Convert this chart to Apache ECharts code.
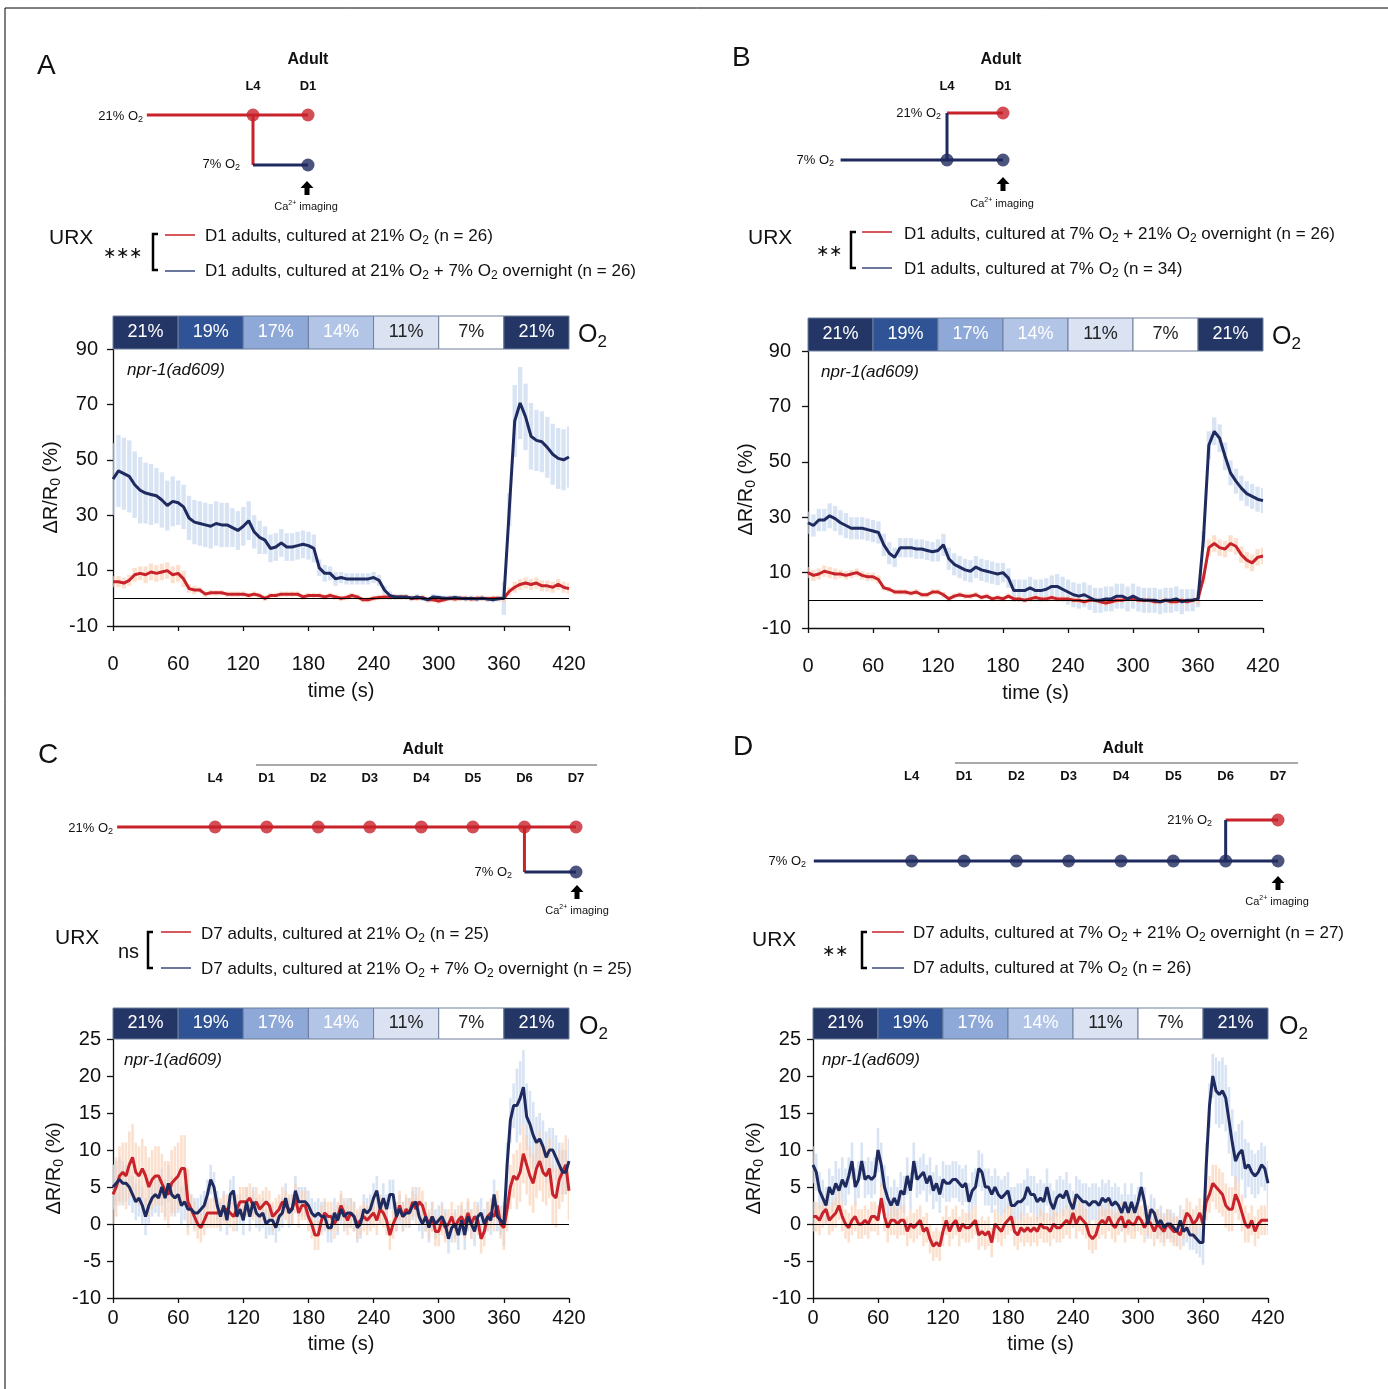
<!DOCTYPE html>
<html>
<head>
<meta charset="utf-8">
<script src="https://cdn.jsdelivr.net/npm/echarts@6/dist/echarts.min.js"></script>
<style>
  html, body { margin: 0; padding: 0; background: #fff; }
  #chart { width: 1388px; height: 1389px; }
</style>
</head>
<body>
<div id="chart"></div>
<script>
// ---- data ----
const STEP_AB = 5;   // s between samples, panels A and B
const STEP_CD = 3;   // s between samples, panels C and D
const SEM_CHUNK = 10; // s covered by each error value

const timeTicks = [0, 60, 120, 180, 240, 300, 360, 420];
const yTicksAB = [-10, 10, 30, 50, 70, 90];
const yTicksCD = [-10, -5, 0, 5, 10, 15, 20, 25];

const o2Edges = [0, 60, 120, 180, 240, 300, 360, 420];
const o2Labels = ['21%', '19%', '17%', '14%', '11%', '7%', '21%'];

// A: D1, 21% (red) vs 21% + 7% overnight (blue)
const blueA = [
  43, 46, 45, 44, 41, 39, 38, 37.5, 37, 35.5,
  33.5, 35, 34.5, 33, 29, 27.5, 27, 26.5, 26, 27,
  26.5, 26.5, 25.5, 24.5, 26, 28, 24, 22, 21, 18,
  18.5, 20, 18.5, 18.5, 19, 19.5, 19, 18, 11, 9,
  9, 7, 7.5, 7, 7, 7, 7, 7, 7.5, 6.5,
  3, 1, 0.5, 0.5, 0.5, 0, 0.5, 0, -0.5, 0.5,
  0.3, 0, 0, 0.3, 0, -0.2, 0, -0.3, 0, -0.3,
  -0.5, -0.2, 0, 32, 64, 70.5, 65.5, 58.5, 57, 56.5,
  54.5, 52, 50.5, 50, 51
];
const redA = [
  6, 6, 5.5, 6.5, 8.5, 9, 8.5, 9.5, 9, 9.5,
  10, 8.5, 9, 7, 3.5, 3, 3, 1.5, 2, 2,
  2, 1.5, 1.5, 1.5, 1.5, 1, 1.5, 1, 0, 1,
  1, 1.5, 1.5, 1.5, 1.5, 0.5, 1, 1, 1, 0.5,
  1, 0.5, 0, 0.3, 1, 0.5, -0.5, -0.5, 0, 0.3,
  0.5, 0.5, 0.5, 0.5, 0.5, 0, 0, 0.3, -0.5, -0.5,
  -1, -0.5, 0, -0.3, 0, 0, -0.3, 0, 0, -0.2,
  0, 0, 0, 2.5, 4, 5, 5.5, 5, 5.5, 4.5,
  4.5, 4, 5, 4, 3.5
];
const semBlueA = [13, 13, 12, 11, 10, 9, 8, 8, 8, 8, 8, 7, 7, 6, 5, 5, 5, 5, 5, 3, 2.5, 2, 2, 2, 2, 1.5, 1, 1, 1, 1, 1, 1, 1, 1, 1, 1, 6, 13, 12, 11, 11, 11];
const semRedA = [2, 2, 2.5, 3, 3, 3, 3, 1.5, 1, 1, 1, 1, 1, 1, 1, 1, 1, 1, 1, 1, 1, 1, 1, 1, 1, 1, 1, 1, 1, 1, 1, 1, 1, 1, 1, 1, 1.5, 2, 2, 2, 2, 2];

// B: D1, 7% + 21% overnight (red) vs 7% (blue)
const blueB = [
  28, 27, 29, 29, 30.5, 29.5, 28, 27, 26, 26,
  26, 25.5, 25, 24.5, 20, 17, 15.5, 19, 19, 19,
  18.5, 18.5, 18, 17.5, 18, 20, 15, 13, 12, 11,
  10.5, 12, 11, 10.5, 10, 9.5, 10, 8, 3.5, 3.5,
  3.5, 4.5, 3.5, 3.5, 4, 5, 5, 4, 3, 2,
  1.5, 2, 1, 0, 0, 0.5, 0.5, 1.5, 1.5, 0.5,
  1.5, 0.5, 0, 0, 0, -0.5, 0, 0, 0.5, -0.5,
  0, 0, 0.5, 22, 56, 61, 58.5, 52, 46, 43,
  40.5, 38.5, 37.5, 36.5, 36
];
const redB = [
  10, 9, 9.5, 10.5, 10, 9.5, 9.5, 9, 9.5, 10,
  9, 8.5, 8.5, 7.5, 4.5, 4, 3, 3, 3, 2.5,
  3, 2, 2, 3, 3, 2, 0.5, 1.5, 2, 1.5,
  1.5, 2, 1, 1.5, 0.5, 1, 0.5, 1.5, 0.5, 0.5,
  0, 0.5, 1, 0.5, 0.5, 1, 0.5, 0.5, 0.5, 0,
  0, -0.5, 0, 0, -0.5, -1, -0.5, 0, 0, 0.5,
  0.5, 0, 0, 0, -0.5, -0.5, 0, -0.5, -0.5, 0,
  -0.5, 0, 0.5, 8, 19, 20.5, 19, 18.5, 20.5, 19.5,
  16.5, 14.5, 13.5, 15.5, 16
];
const semBlueB = [4, 4, 4.5, 4.5, 4, 4, 4, 4, 3.5, 3.5, 3.5, 3.5, 4, 4, 4, 4, 4, 4, 3.5, 4, 4, 4, 4, 4.5, 4.5, 4.5, 4.5, 4.5, 4.5, 4.5, 4.5, 4.5, 4.5, 4.5, 4.5, 4, 3, 5, 5, 4.5, 4.5, 4.5];
const semRedB = [2, 2, 2, 1.5, 1.5, 1.5, 1.5, 1, 1, 1, 1, 1, 1, 1, 1, 1, 1, 1, 1, 1, 1, 1, 1, 1, 1, 1, 1, 1, 1, 1, 1, 1, 1, 1, 1, 1, 2, 3, 3, 3, 3, 3];

// C: D7, 21% (red) vs 21% + 7% overnight (blue)
const blueC = [
  5, 5.5, 6, 5.5, 5.5, 5, 4, 3, 3.5, 2.5,
  1, 2.5, 3.5, 4, 3.5, 5, 3.5, 5.5, 4, 3.5,
  4, 2.5, 3, 2, 2, 1.5, 1.5, 2, 2.5, 4,
  6, 5, 2.5, 1, 2.5, 0.5, 4, 4.5, 1, 2,
  0.5, 3, 1, 3, 1.5, 1, 1.5, 0, 0.5, 0.5,
  -0.5, 1, 1.5, 3.5, 1.5, 2, 4.5, 3, 3, 3,
  2.5, 1.5, 1, 1.5, 1, 1, -0.5, -0.5, 1.5, 0.5,
  2, 1, 1.5, 1.5, 1, -0.5, 0, 2, 1.5, 2,
  3.5, 4.5, 2, 3.5, 2, 4, 4, 1, 2, 1,
  1.5, 1.5, 2.5, 3, 1, 0, 1, -0.5, 1, 0,
  0.5, 1, 0, -2, -0.5, 0, -1.5, 0.5, -1.5, 1,
  0, -1, 1, 1.5, 0, 1, 0.5, 4, 1, 0.5,
  0, 8, 14, 16, 16, 17, 18.5, 14.5, 13.5, 12,
  11, 11.5, 10.5, 9, 10, 10, 9, 8, 7, 7,
  8.5
];
const redC = [
  4, 5, 6.5, 7, 6.5, 8, 9, 7, 6.5, 7.5,
  6.5, 5, 6, 6.5, 6.5, 5.5, 4.5, 4, 5.5, 6,
  6.5, 7.5, 7.5, 3, 2, 1, 0, -0.5, 0.5, 1.5,
  1.5, 1.5, 1.5, 1.5, 2, 2, 1.5, 1, 2, 3,
  3, 3, 3.5, 2.5, 3, 2, 2.5, 3, 2.5, 1,
  1.5, 2, 3, 2.5, 2, 2, 3.5, 1.5, 2.5, 2.5,
  1, 0, -1.5, -1.5, 0.5, 1.5, 1, 1, 0, 1,
  2.5, 1.5, 0.5, 1.5, 1, 0, 0.5, 1, 0.5, 1,
  1.5, 0.5, 2, 1.5, 0.5, -1.5, 0, 1, 2.5, 1,
  2, 1.5, 3, 2, 3, 2.5, 1, 0, 1, -1,
  -1, 0.5, -0.5, 0, 1, -0.5, 0.5, 1, 0, 1.5,
  0, 1, 0.5, -2, -1, 1, 1.5, 1, 2.5, 0,
  -0.5, 2, 5, 6.5, 6, 7, 9.5, 8, 6.5, 5.5,
  7.5, 8.5, 7, 6.5, 7.5, 4, 3.5, 6, 7, 8,
  4.5
];
const semBlueC = [3, 2.5, 2.5, 2.5, 2.5, 2.5, 2.5, 2, 2, 2, 2, 2, 2, 2, 2, 2, 2, 2, 2, 2, 2, 2, 2, 2, 2, 2, 2, 2, 2, 2, 2, 2, 2, 2, 2, 2, 3, 5, 4.5, 3.5, 3, 3];
const semRedC = [4, 4.5, 4, 4, 4, 4.5, 4.5, 2, 2, 2, 2, 2, 2, 2, 2, 2, 2, 2, 2, 2, 2, 2, 2, 2, 2, 2, 2, 2, 2, 2, 2, 2, 2, 2, 2, 2, 3, 4, 4, 4, 4, 4];

// D: D7, 7% + 21% overnight (red) vs 7% (blue)
const blueD = [
  8, 7, 4.5, 3.5, 2.5, 5, 4, 5.5, 4.5, 6,
  5, 6.5, 8.5, 5, 6, 8.5, 6, 6.5, 6, 6.5,
  10, 8, 5, 3.5, 2.5, 3.5, 2.5, 4.5, 4, 6.5,
  4.5, 8.5, 6, 6.5, 7, 5.5, 6.5, 4.5, 5.5, 4,
  6, 5.5, 5.5, 6, 6, 5.5, 5, 5.5, 3, 4.5,
  5, 7.5, 7, 5, 5, 4, 5, 4, 3.5, 4,
  4.5, 2.5, 2.5, 3, 3, 3.5, 5, 4, 4, 3,
  3.5, 3, 5, 3, 2, 3.5, 4, 3.5, 4.5, 3,
  2, 4, 3.5, 3, 3, 2.5, 3, 3, 2.5, 3.5,
  3, 3.5, 2.5, 3, 2.5, 1.5, 3, 1.5, 3, 1.5,
  3, 5, 3, 0, 2, 1.5, 0, 0.5, -0.5, 0,
  0, -0.5, -1, 0.5, -1, -0.5, -1.5, -1.5, -2, -2.5,
  -2.5, 8, 16, 20, 18, 17.5, 18, 17, 14, 11,
  8.5, 9.5, 10, 7.5, 8, 7, 6.5, 7, 8, 7.5,
  5.5
];
const redD = [
  1, 1, 0.5, 1.5, 2, 0.5, 1, 1.5, 2.5, 1,
  0, -0.5, 0.5, 1, 0, 0, 0.5, 0, 1, 1,
  0.5, 3.5, 1, -0.5, 0.5, 0.5, 0, 0.5, 0.5, -1,
  0, -0.5, 0, 0.5, -1, -0.5, -2, -3, -2.5, -3,
  -1, 0.5, -1, 0, 0.5, -1, 0, -0.5, -0.5, 0,
  0.5, -1.5, -1, -1.5, -1, -2.5, 0, -0.5, -1, 0,
  0.5, 1, -1, -1.5, -0.5, -1, -0.5, -1, -0.5, -1,
  0, -0.5, -0.5, -1, 0, -0.5, -0.5, 0, 0.5, 0,
  1.5, 0, 1, 0.5, 0, -1.5, -2, -1.5, 0, 0.5,
  0, 1, 0, -0.5, 0.5, 1, -0.5, 0.5, 0, 0,
  1, 0.5, -0.5, 0.5, 0, -1, 0, -0.5, -1, 0,
  -0.5, -1, -1, -1.5, 0, 1.5, 1, 0, 0.5, 1.5,
  0, 3, 4, 5.5, 5, 4.5, 4, 2.5, 2, 2,
  4, 3, 1.5, 0, -0.5, 0.5, -1, 0, 0.5, 0.5,
  0.5
];
const semBlueD = [2.5, 2.5, 3, 2.5, 2.5, 2.5, 3, 2.5, 2.5, 2.5, 2.5, 2.5, 2.5, 2.5, 2.5, 2.5, 2.5, 2.5, 2.5, 2.5, 2.5, 2.5, 2.5, 2.5, 2.5, 2.5, 2.5, 2.5, 2.5, 2.5, 2, 2, 2, 2, 2, 2, 3, 4.5, 4.5, 4, 3, 3];
const semRedD = [2, 2, 2, 2, 2, 2, 2, 2, 2, 2, 2, 2, 2, 2, 2, 2, 2, 2, 2, 2, 2, 2, 2, 2, 2, 2, 2, 2, 2, 2, 2, 2, 2, 2, 2, 2, 2.5, 3, 3, 2.5, 2, 2];

// schematic timelines: x = stage index (L4 = 0), y = O2 level
const stagesAB = ['L4', 'D1'];
const stagesCD = ['L4', 'D1', 'D2', 'D3', 'D4', 'D5', 'D6', 'D7'];
const schA_red = [[[-1.93, 21], [0, 21], [1, 21]], [[0, 21], [0, 7]]];
const schA_blue = [[[0, 7], [1, 7]]];
const schA_redDots = [[0, 21], [1, 21]];
const schA_blueDots = [[1, 7]];
const schB_red = [[[0, 21], [1, 21]]];
const schB_blue = [[[-1.9, 7], [0, 7], [1, 7]], [[0, 7], [0, 21]]];
const schB_redDots = [[1, 21]];
const schB_blueDots = [[0, 7], [1, 7]];
const schC_red = [[[-1.9, 21], [7, 21]], [[6, 21], [6, 7]]];
const schC_blue = [[[6, 7], [7, 7]]];
const schC_redDots = [[0, 21], [1, 21], [2, 21], [3, 21], [4, 21], [5, 21], [6, 21], [7, 21]];
const schC_blueDots = [[7, 7]];
const schD_red = [[[6, 21], [7, 21]]];
const schD_blue = [[[-1.87, 7], [7, 7]], [[6, 7], [6, 21]]];
const schD_redDots = [[7, 21]];
const schD_blueDots = [[0, 7], [1, 7], [2, 7], [3, 7], [4, 7], [5, 7], [6, 7], [7, 7]];

// ---- styles / layout ----
const FONT = '"Liberation Sans", Arial, sans-serif';
const RED = '#c8222b';
const BLUE = '#1f2a5e';
const RED_BAND = 'rgba(250, 208, 180, 0.65)';
const BLUE_BAND = 'rgba(200, 215, 238, 0.7)';
const o2Colors = ['#243666', '#2f5395', '#8ea8d8', '#b3c5e6', '#dbe3f3', '#ffffff', '#243666'];
const o2TextColors = ['#fff', '#fff', '#fff', '#fff', '#222', '#222', '#fff'];

const panels = [
  { main: [113, 349, 456, 277], bar: [113, 316, 456, 33], sch: [143, 115, 165, 50], schMargin: 22,
    yMin: -10, yMax: 90, yInt: 20, yTicks: yTicksAB, xLabelMargin: 28, xNameGap: 55, yLabelMargin: 15, yNameGap: 50,
    step: STEP_AB, red: redA, blue: blueA, semRed: semRedA, semBlue: semBlueA, stages: stagesAB,
    schRed: schA_red, schBlue: schA_blue, schRedDots: schA_redDots, schBlueDots: schA_blueDots },
  { main: [808, 351, 455, 277], bar: [808, 318, 455, 33], sch: [835, 113, 168, 47], schMargin: 20,
    yMin: -10, yMax: 90, yInt: 20, yTicks: yTicksAB, xLabelMargin: 28, xNameGap: 55, yLabelMargin: 17, yNameGap: 50,
    step: STEP_AB, red: redB, blue: blueB, semRed: semRedB, semBlue: semBlueB, stages: stagesAB,
    schRed: schB_red, schBlue: schB_blue, schRedDots: schB_redDots, schBlueDots: schB_blueDots },
  { main: [113, 1039, 456, 259], bar: [113, 1008, 456, 31], sch: [112, 827, 464, 45], schMargin: 42,
    yMin: -10, yMax: 25, yInt: 5, yTicks: yTicksCD, xLabelMargin: 10, xNameGap: 36, yLabelMargin: 12, yNameGap: 47,
    step: STEP_CD, red: redC, blue: blueC, semRed: semRedC, semBlue: semBlueC, stages: stagesCD,
    schRed: schC_red, schBlue: schC_blue, schRedDots: schC_redDots, schBlueDots: schC_blueDots },
  { main: [813, 1039, 455, 259], bar: [813, 1008, 455, 31], sch: [807, 820, 471, 41], schMargin: 37,
    yMin: -10, yMax: 25, yInt: 5, yTicks: yTicksCD, xLabelMargin: 10, xNameGap: 36, yLabelMargin: 12, yNameGap: 47,
    step: STEP_CD, red: redD, blue: blueD, semRed: semRedD, semBlue: semBlueD, stages: stagesCD,
    schRed: schD_red, schBlue: schD_blue, schRedDots: schD_redDots, schBlueDots: schD_blueDots }
];

const grids = [], xAxes = [], yAxes = [], series = [];
const box = (r) => ({ left: r[0], top: r[1], width: r[2], height: r[3], containLabel: false });

// main plots: grid index 0..3
panels.forEach((p, i) => {
  grids.push(box(p.main));
  xAxes.push({
    gridIndex: i, type: 'value', min: 0, max: 420, interval: 60,
    axisLine: { show: true, onZero: false, lineStyle: { color: '#111', width: 1.3 } },
    axisTick: { show: true, length: 5, lineStyle: { color: '#111', width: 1.3 } },
    axisLabel: { fontSize: 20, color: '#111', fontFamily: FONT, margin: p.xLabelMargin },
    splitLine: { show: false },
    name: 'time (s)', nameLocation: 'middle', nameGap: p.xNameGap,
    nameTextStyle: { fontSize: 20, color: '#111', fontFamily: FONT }
  });
  yAxes.push({
    gridIndex: i, type: 'value', min: p.yMin, max: p.yMax, interval: p.yInt,
    axisLine: { show: true, lineStyle: { color: '#111', width: 1.3 } },
    axisTick: { show: true, length: 6, customValues: p.yTicks, lineStyle: { color: '#111', width: 1.3 } },
    axisLabel: { fontSize: 20, color: '#111', fontFamily: FONT, margin: p.yLabelMargin, customValues: p.yTicks },
    splitLine: { show: false },
    name: 'ΔR/R{s|0} (%)', nameLocation: 'middle', nameGap: p.yNameGap,
    nameTextStyle: { fontSize: 20, color: '#111', fontFamily: FONT, lineHeight: 24,
      rich: { s: { fontSize: 14, fontFamily: FONT, color: '#111', verticalAlign: 'bottom', lineHeight: 20 } } }
  });
});
// O2 bars: grid index 4..7
panels.forEach((p, i) => {
  grids.push(box(p.bar));
  xAxes.push({ gridIndex: 4 + i, type: 'value', min: 0, max: 420, show: false });
  yAxes.push({ gridIndex: 4 + i, type: 'value', min: 0, max: 1, show: false });
});
// schematics: grid index 8..11
panels.forEach((p, i) => {
  grids.push(box(p.sch));
  xAxes.push({
    gridIndex: 8 + i, type: 'value', position: 'top', min: -2, max: p.stages.length - 1, interval: 1,
    axisLine: { show: false }, axisTick: { show: false }, splitLine: { show: false },
    axisLabel: { show: true, showMinLabel: true, showMaxLabel: true, margin: p.schMargin,
      fontSize: 13, fontWeight: 'bold', color: '#111', fontFamily: FONT,
      formatter: (v) => (v >= 0 && p.stages[v]) ? p.stages[v] : '' }
  });
  yAxes.push({ gridIndex: 8 + i, type: 'value', min: 7, max: 21, show: false });
});

function semAt(sem, t) {
  return sem[Math.min(Math.floor(t / SEM_CHUNK), sem.length - 1)];
}
function bandSeries(gi, step, mean, sem, color) {
  return {
    type: 'custom', xAxisIndex: gi, yAxisIndex: gi, clip: true, silent: true, z: 1,
    data: mean.map((v, k) => [k * step, v, semAt(sem, k * step)]),
    renderItem: (params, api) => {
      const t = api.value(0), m = api.value(1), s = api.value(2);
      const hi = api.coord([t, m + s]);
      const lo = api.coord([t, m - s]);
      const w = api.size([step, 0])[0] * 0.8;
      return { type: 'rect', shape: { x: hi[0] - w / 2, y: hi[1], width: w, height: lo[1] - hi[1] }, style: { fill: color } };
    }
  };
}
function traceSeries(gi, step, mean, color, z) {
  return {
    type: 'line', xAxisIndex: gi, yAxisIndex: gi, silent: true, z,
    data: mean.map((v, k) => [k * step, v]),
    symbol: 'none', lineStyle: { color, width: 3 }, itemStyle: { color }
  };
}

panels.forEach((p, i) => {
  series.push(bandSeries(i, p.step, p.blue, p.semBlue, BLUE_BAND));
  series.push(bandSeries(i, p.step, p.red, p.semRed, RED_BAND));
  series.push({
    type: 'line', xAxisIndex: i, yAxisIndex: i, data: [], silent: true, z: 2,
    markLine: { silent: true, symbol: ['none', 'none'], label: { show: false }, animation: false,
      lineStyle: { color: '#000', width: 1.2, type: 'solid' }, data: [{ yAxis: 0 }] }
  });
  series.push(traceSeries(i, p.step, p.red, RED, 3));
  series.push(traceSeries(i, p.step, p.blue, BLUE, 4));

  // O2 condition bar
  series.push({
    type: 'custom', xAxisIndex: 4 + i, yAxisIndex: 4 + i, silent: true,
    data: o2Labels.map((l, k) => [o2Edges[k], o2Edges[k + 1]]),
    renderItem: (params, api) => {
      const k = params.dataIndex;
      const a = api.coord([api.value(0), 1]);
      const b = api.coord([api.value(1), 0]);
      return {
        type: 'rect',
        shape: { x: a[0], y: a[1], width: b[0] - a[0], height: b[1] - a[1] },
        style: { fill: o2Colors[k], stroke: '#6e7e9c', lineWidth: 1 },
        textContent: { style: { text: o2Labels[k], fill: o2TextColors[k], font: '18px ' + FONT } },
        textConfig: { position: 'inside' }
      };
    }
  });

  // schematic lines and dots
  const gi = 8 + i;
  p.schRed.forEach((path) => series.push({ type: 'line', xAxisIndex: gi, yAxisIndex: gi, data: path, symbol: 'none', clip: false, silent: true, z: 2, lineStyle: { color: RED, width: 3 } }));
  p.schBlue.forEach((path) => series.push({ type: 'line', xAxisIndex: gi, yAxisIndex: gi, data: path, symbol: 'none', clip: false, silent: true, z: 2, lineStyle: { color: BLUE, width: 3 } }));
  series.push({ type: 'scatter', xAxisIndex: gi, yAxisIndex: gi, data: p.schRedDots, symbolSize: 13, clip: false, silent: true, z: 3, itemStyle: { color: RED } });
  series.push({ type: 'scatter', xAxisIndex: gi, yAxisIndex: gi, data: p.schBlueDots, symbolSize: 13, clip: false, silent: true, z: 3, itemStyle: { color: BLUE } });
});

// ---- annotations (text, legends, arrows) ----
function T(x, y, text, size, opt) {
  opt = opt || {};
  const st = {
    text, fill: opt.color || '#111',
    font: (opt.italic ? 'italic ' : '') + (opt.bold ? 'bold ' : '') + size + 'px ' + FONT,
    align: opt.align || 'left', verticalAlign: 'middle', lineHeight: Math.round(size * 1.25),
    rich: {
      s: { fontSize: Math.round(size * 0.68), fontFamily: FONT, fill: opt.color || '#111', verticalAlign: 'bottom', lineHeight: Math.round(size * 1.0) },
      u: { fontSize: Math.round(size * 0.62), fontFamily: FONT, fill: opt.color || '#111', verticalAlign: 'top', lineHeight: Math.round(size * 0.9) }
    }
  };
  return { type: 'text', x, y, silent: true, z: 10, style: st };
}
function L(x1, y1, x2, y2, color, w) {
  return { type: 'line', silent: true, z: 10, shape: { x1, y1, x2, y2 }, style: { stroke: color, lineWidth: w } };
}
function bracket(x, y1, y2) {
  return { type: 'polyline', silent: true, z: 10, shape: { points: [[x + 5, y1], [x, y1], [x, y2], [x + 5, y2]] }, style: { stroke: '#000', lineWidth: 2.5, fill: null } };
}
function arrow(x, y) {
  return { type: 'polygon', silent: true, z: 10, shape: { points: [[x, y], [x + 6.5, y + 7], [x + 2.5, y + 7], [x + 2.5, y + 14], [x - 2.5, y + 14], [x - 2.5, y + 7], [x - 6.5, y + 7]] }, style: { fill: '#000' } };
}

const LEG = 17;
const graphics = [
  L(5, 8, 1388, 8, '#000', 1), L(5, 8, 5, 1389, '#000', 1),
  // panel letters
  T(37, 66, 'A', 28), T(732, 58, 'B', 28), T(38, 755, 'C', 28), T(733, 747, 'D', 28),
  // "Adult" headers
  T(308, 60, 'Adult', 16, { bold: true, align: 'center' }),
  T(1001, 60, 'Adult', 16, { bold: true, align: 'center' }),
  T(423, 750, 'Adult', 16, { bold: true, align: 'center' }),
  T(1123, 749, 'Adult', 16, { bold: true, align: 'center' }),
  L(256, 765, 597, 765, '#555', 1.2), L(955, 763, 1298, 763, '#555', 1.2),
  // schematic O2 labels
  T(143, 116, '21% O{s|2}', 13, { align: 'right' }), T(240, 164, '7% O{s|2}', 13, { align: 'right' }),
  T(941, 113, '21% O{s|2}', 13, { align: 'right' }), T(834, 160, '7% O{s|2}', 13, { align: 'right' }),
  T(113, 828, '21% O{s|2}', 13, { align: 'right' }), T(512, 872, '7% O{s|2}', 13, { align: 'right' }),
  T(806, 861, '7% O{s|2}', 13, { align: 'right' }), T(1212, 820, '21% O{s|2}', 13, { align: 'right' }),
  // imaging arrows
  arrow(307, 181), T(306, 207, 'Ca{u|2+} imaging', 11, { align: 'center' }),
  arrow(1003, 177), T(1002, 204, 'Ca{u|2+} imaging', 11, { align: 'center' }),
  arrow(577, 885), T(577, 911, 'Ca{u|2+} imaging', 11, { align: 'center' }),
  arrow(1278, 876), T(1277, 902, 'Ca{u|2+} imaging', 11, { align: 'center' }),
  // legends
  T(49, 238, 'URX', 21), T(103, 254, '∗∗∗', 16), bracket(153, 234, 270),
  L(165, 235, 195, 235, RED, 1.5), L(165, 271, 195, 271, '#3b4a7e', 1.5),
  T(205, 236, 'D1 adults, cultured at 21% O{s|2} (n = 26)', LEG),
  T(205, 271, 'D1 adults, cultured at 21% O{s|2} + 7% O{s|2} overnight (n = 26)', LEG),

  T(748, 238, 'URX', 21), T(816, 252, '∗∗', 16), bracket(851, 232, 268),
  L(862, 232, 892, 232, RED, 1.5), L(862, 268, 892, 268, '#3b4a7e', 1.5),
  T(904, 234, 'D1 adults, cultured at 7% O{s|2} + 21% O{s|2} overnight (n = 26)', LEG),
  T(904, 269, 'D1 adults, cultured at 7% O{s|2} (n = 34)', LEG),

  T(55, 938, 'URX', 21), T(118, 952, 'ns', 20), bracket(148, 932, 968),
  L(161, 932, 191, 932, RED, 1.5), L(161, 968, 191, 968, '#3b4a7e', 1.5),
  T(201, 934, 'D7 adults, cultured at 21% O{s|2} (n = 25)', LEG),
  T(201, 969, 'D7 adults, cultured at 21% O{s|2} + 7% O{s|2} overnight (n = 25)', LEG),

  T(752, 940, 'URX', 21), T(822, 952, '∗∗', 16), bracket(862, 932, 968),
  L(872, 932, 904, 932, RED, 1.5), L(872, 968, 904, 968, '#3b4a7e', 1.5),
  T(913, 933, 'D7 adults, cultured at 7% O{s|2} + 21% O{s|2} overnight (n = 27)', LEG),
  T(913, 968, 'D7 adults, cultured at 7% O{s|2} (n = 26)', LEG),
  // strain labels
  T(127, 370, 'npr-1(ad609)', 17, { italic: true }), T(821, 372, 'npr-1(ad609)', 17, { italic: true }),
  T(124, 1060, 'npr-1(ad609)', 17, { italic: true }), T(822, 1060, 'npr-1(ad609)', 17, { italic: true }),
  // O2 bar tags
  T(578, 335, 'O{s|2}', 25), T(1272, 337, 'O{s|2}', 25), T(579, 1027, 'O{s|2}', 25), T(1279, 1027, 'O{s|2}', 25)
];

const chart = echarts.init(document.getElementById('chart'));
chart.setOption({
  animation: false,
  backgroundColor: '#fff',
  grid: grids,
  xAxis: xAxes,
  yAxis: yAxes,
  series: series,
  graphic: { elements: graphics }
});
</script>
</body>
</html>
